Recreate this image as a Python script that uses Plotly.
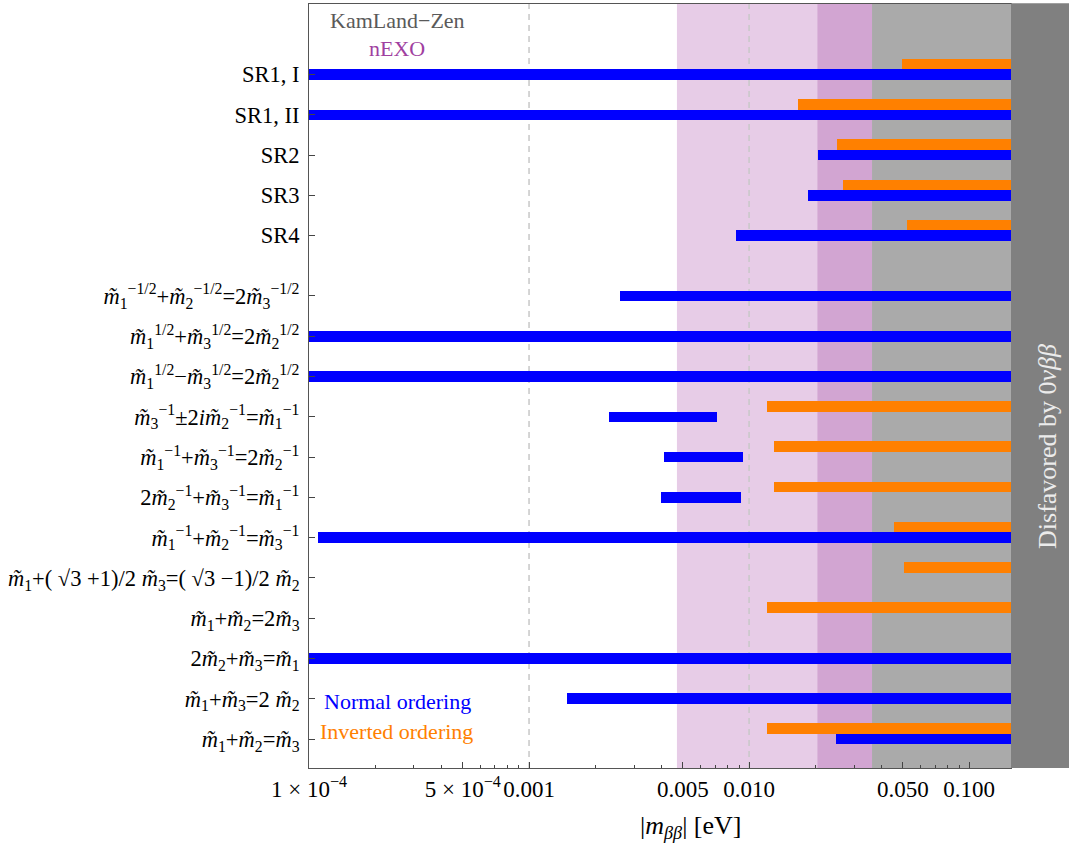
import plotly.graph_objects as go

def m(k):
    return "<i>m̃</i><sub>%s</sub>" % k

categories = [
    "SR1, I", "SR1, II", "SR2", "SR3", "SR4",
    m(1) + "<sup>−1/2</sup>+" + m(2) + "<sup>−1/2</sup>=2" + m(3) + "<sup>−1/2</sup>",
    m(1) + "<sup>1/2</sup>+" + m(3) + "<sup>1/2</sup>=2" + m(2) + "<sup>1/2</sup>",
    m(1) + "<sup>1/2</sup>−" + m(3) + "<sup>1/2</sup>=2" + m(2) + "<sup>1/2</sup>",
    m(3) + "<sup>−1</sup>±2<i>i</i>" + m(2) + "<sup>−1</sup>=" + m(1) + "<sup>−1</sup>",
    m(1) + "<sup>−1</sup>+" + m(3) + "<sup>−1</sup>=2" + m(2) + "<sup>−1</sup>",
    "2" + m(2) + "<sup>−1</sup>+" + m(3) + "<sup>−1</sup>=" + m(1) + "<sup>−1</sup>",
    m(1) + "<sup>−1</sup>+" + m(2) + "<sup>−1</sup>=" + m(3) + "<sup>−1</sup>",
    m(1) + "+( √3 +1)/2 " + m(3) + "=( √3 −1)/2 " + m(2),
    m(1) + "+" + m(2) + "=2" + m(3),
    "2" + m(2) + "+" + m(3) + "=" + m(1),
    m(1) + "+" + m(3) + "=2 " + m(2),
    m(1) + "+" + m(2) + "=" + m(3),
]

# Normal ordering ranges of |m_bb| [eV] (None = no solution)
no_lo = [1e-4, 1e-4, 0.0206, 0.0185, 0.00873, 0.00259, 1e-4, 1e-4, 0.00231, 0.00411,
         0.00398, 1.1e-4, None, None, 1e-4, 0.00149, 0.0249]
no_hi = [0.155, 0.155, 0.155, 0.155, 0.155, 0.155, 0.155, 0.155, 0.00715, 0.00939,
         0.00920, 0.155, None, None, 0.155, 0.155, 0.155]
# Inverted ordering ranges
io_lo = [0.0496, 0.0167, 0.0251, 0.0268, 0.0523, None, None, None, 0.0120, 0.0130,
         0.0130, 0.0456, 0.0506, 0.0120, None, None, 0.0120]
io_hi = [0.155, 0.155, 0.155, 0.155, 0.155, None, None, None, 0.155, 0.155,
         0.155, 0.155, 0.155, 0.155, None, None, 0.155]

# shaded regions [eV]
nexo_band = [0.0047, 0.0204]
overlap_band = [0.0204, 0.0362]
kamland_band = [0.0362, 0.155]
grid_vals = [0.001, 0.01]

major_ticks = [1e-4, 5e-4, 1e-3, 5e-3, 1e-2, 5e-2, 1e-1]
major_text = ["1 × 10<sup>−4</sup>", "5 × 10<sup>−4</sup>", "0.001", "0.005", "0.010", "0.050", "0.100"]
minor_ticks = [k * 10.0 ** e for e in (-4, -3, -2, -1) for k in (2, 3, 4, 6, 7, 8, 9)]

# row positions (gap after SR4)
ypos = [i if i < 5 else i + 0.5 for i in range(len(categories))]

FONT = "Liberation Serif"
BLUE = "#0000FF"
ORANGE = "#FF8000"

fig = go.Figure()

def add_bars(lo, hi, color, name, offset):
    ys, bases, lens = [], [], []
    for y, a, b in zip(ypos, lo, hi):
        if a is None:
            continue
        ys.append(y)
        bases.append(a)
        lens.append(b - a)
    fig.add_trace(go.Bar(
        orientation="h", y=ys, x=lens, base=bases, name=name,
        marker=dict(color=color, line=dict(width=0)),
        width=0.26, offset=offset, showlegend=False, hoverinfo="skip"))

add_bars(io_lo, io_hi, ORANGE, "Inverted ordering", -0.39)
add_bars(no_lo, no_hi, BLUE, "Normal ordering", -0.13)

shapes = []
for band, col in ((nexo_band, "#E7CCE7"), (overlap_band, "#D2A5D2"), (kamland_band, "#AAAAAA")):
    shapes.append(dict(type="rect", xref="x", yref="paper", x0=band[0], x1=band[1],
                       y0=0, y1=1, fillcolor=col, line=dict(width=0), layer="below"))
for g in grid_vals:
    shapes.append(dict(type="line", xref="x", yref="paper", x0=g, x1=g, y0=0, y1=1,
                       line=dict(color="#C8C8C8", width=1.5, dash="6px,5px"), layer="below"))
shapes.append(dict(type="rect", xref="paper", yref="paper", x0=1.0, x1=1.2, y0=0, y1=1.001,
                   fillcolor="#808080", line=dict(width=0), layer="above"))

annotations = [
    dict(text="KamLand−Zen", x=0.1254, y=0.978, xref="paper", yref="paper", showarrow=False,
         xanchor="center", yanchor="middle",
         font=dict(family=FONT, size=22, color="#5A5A5A")),
    dict(text="nEXO", x=0.1254, y=0.9424, xref="paper", yref="paper", showarrow=False,
         xanchor="center", yanchor="middle",
         font=dict(family=FONT, size=22, color="#A040A0")),
    dict(text="Normal ordering", x=0.0185, y=0.0864, xref="paper", yref="paper", showarrow=False,
         xanchor="left", yanchor="middle", font=dict(family=FONT, size=22, color=BLUE)),
    dict(text="Inverted ordering", x=0.0128, y=0.0484, xref="paper", yref="paper", showarrow=False,
         xanchor="left", yanchor="middle", font=dict(family=FONT, size=22, color=ORANGE)),
    dict(text="Disfavored by 0<i>νββ</i>", x=1.0527, y=0.4215, xref="paper", yref="paper",
         showarrow=False, textangle=-90, xanchor="center", yanchor="middle",
         font=dict(family=FONT, size=26, color="#EBEBEB")),
    dict(text="|<i>m</i><sub><i>ββ</i></sub>| [eV]", x=0.544, y=-0.077, xref="paper", yref="paper",
         showarrow=False, xanchor="center", yanchor="middle",
         font=dict(family=FONT, size=26, color="black")),
]

fig.update_layout(
    width=1069, height=846,
    margin=dict(l=309, r=58, t=4, b=78),
    paper_bgcolor="white", plot_bgcolor="white",
    barmode="overlay", bargap=0,
    font=dict(family=FONT, size=22, color="black"),
    shapes=shapes, annotations=annotations,
    xaxis=dict(type="log", range=[-4, 0.1903 - 1], tickmode="array",
               tickvals=major_ticks, ticktext=major_text, ticks="inside", ticklen=6,
               tickcolor="#444444", showgrid=False, zeroline=False, automargin=False,
               showline=True, linecolor="#555555", linewidth=1, mirror=True,
               tickfont=dict(family=FONT, size=23),
               minor=dict(tickmode="array", tickvals=minor_ticks, ticks="inside",
                          ticklen=3.5, tickcolor="#444444", showgrid=False)),
    yaxis=dict(range=[17.22, -1.75], tickmode="array", tickvals=ypos, ticktext=categories,
               ticks="inside", ticklen=6, tickcolor="#444444", showgrid=False, zeroline=False,
               showline=True, linecolor="#555555", linewidth=1, mirror=True, automargin=False,
               tickfont=dict(family=FONT, size=22.5), ticklabelstandoff=4),
)

fig.write_html("out.html")
